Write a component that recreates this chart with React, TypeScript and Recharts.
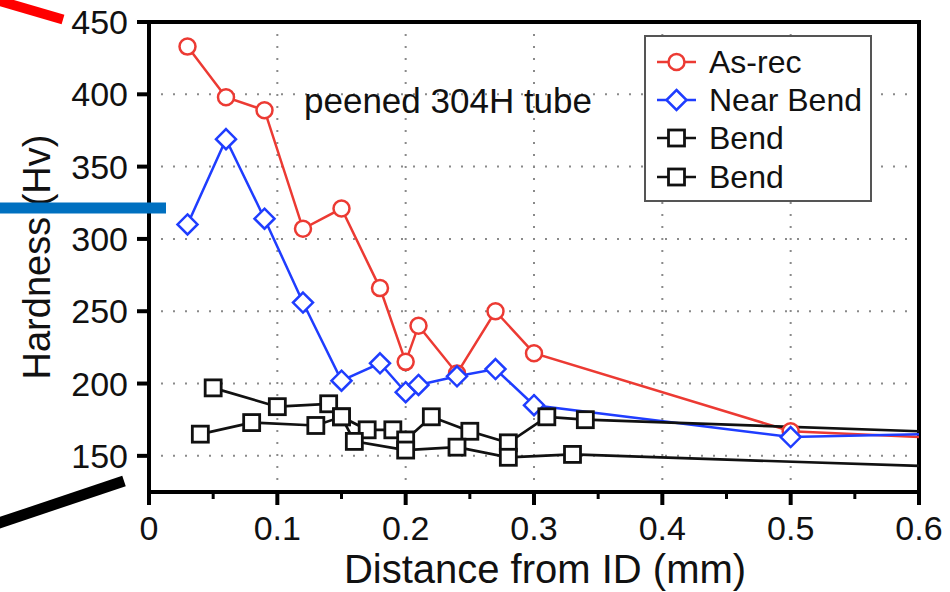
import React from 'react';
import {
  LineChart,
  Line,
  XAxis,
  YAxis,
  CartesianGrid,
  ReferenceArea,
  ReferenceDot,
  Legend,
  Label,
} from 'recharts';

// ---------- data ----------
const asRecX = [0.03, 0.06, 0.09, 0.12, 0.15, 0.18, 0.2, 0.21, 0.24, 0.27, 0.3, 0.5, 0.6];
const asRecHv = [433, 398, 389, 307, 321, 266, 215, 240, 207, 250, 221, 167, 163];

const nearBendX = [0.03, 0.06, 0.09, 0.12, 0.15, 0.18, 0.2, 0.21, 0.24, 0.27, 0.3, 0.5, 0.6];
const nearBendHv = [310, 369, 314, 256, 202, 214, 194, 199, 205, 210, 185, 163, 165];

const bendAX = [0.05, 0.1, 0.14, 0.15, 0.17, 0.19, 0.2, 0.22, 0.25, 0.28, 0.31, 0.34, 0.6];
const bendAHv = [197, 184, 186, 177, 168, 168, 161, 177, 167, 159, 177, 175, 167];

const bendBX = [0.04, 0.08, 0.13, 0.15, 0.16, 0.2, 0.24, 0.28, 0.33, 0.6];
const bendBHv = [165, 173, 171, 177, 160, 154, 156, 149, 151, 143];

const seriesNames = ['As-rec', 'Near Bend', 'Bend', 'Bend'];

const majorXTicks = [0, 0.1, 0.2, 0.3, 0.4, 0.5, 0.6];
const majorXLabels = ['0', '0.1', '0.2', '0.3', '0.4', '0.5', '0.6'];
const minorXTicks = [0.05, 0.15, 0.25, 0.35, 0.45, 0.55];
const yTicks = [150, 200, 250, 300, 350, 400, 450];
const gridX = [0.1, 0.2, 0.3, 0.4, 0.5];
const annotationText = 'peened 304H tube';
const annotationPos = { x: 0.233, y: 395.5 };

const xDomain = [0, 0.6];
const yDomain = [125, 450];

// ---------- styles ----------
const RED = '#ec3a33';
const BLUE = '#1f3dff';
const BLACK = '#111111';
const FONT = '"Liberation Sans", Arial, Helvetica, sans-serif';

const seriesStyle = [
  { color: RED, shape: 'circle', width: 2.5 },
  { color: BLUE, shape: 'diamond', width: 2.5 },
  { color: BLACK, shape: 'square', width: 2.7 },
  { color: BLACK, shape: 'square', width: 2.7 },
];

const toPoints = (xs: number[], ys: number[]) => xs.map((x, i) => ({ x, y: ys[i] }));

const seriesData = [
  toPoints(asRecX, asRecHv),
  toPoints(nearBendX, nearBendHv),
  toPoints(bendAX, bendAHv),
  toPoints(bendBX, bendBHv),
];

const Marker = ({ shape, cx, cy, color }: { shape: string; cx: number; cy: number; color: string }) => {
  if (shape === 'circle') {
    return <circle cx={cx} cy={cy} r={8} fill="#fff" stroke={color} strokeWidth={2.5} />;
  }
  if (shape === 'diamond') {
    const h = 10;
    return (
      <polygon
        points={`${cx},${cy - h} ${cx + h},${cy} ${cx},${cy + h} ${cx - h},${cy}`}
        fill="#fff"
        stroke={color}
        strokeWidth={2.5}
      />
    );
  }
  const s = 8;
  return <rect x={cx - s} y={cy - s} width={2 * s} height={2 * s} fill="#fff" stroke={color} strokeWidth={2.8} />;
};

const makeDot = (shape: string, color: string) => (props: any) => {
  const { cx, cy, index, payload } = props;
  const key = `dot-${shape}-${color}-${index}`;
  if (cx == null || cy == null || (payload && payload.x >= xDomain[1])) return <g key={key} />;
  return (
    <g key={key}>
      <Marker shape={shape} cx={cx} cy={cy} color={color} />
    </g>
  );
};

const XTick = (props: any) => {
  const { x, y, payload } = props;
  const v = payload.value;
  const mi = majorXTicks.findIndex((t) => Math.abs(t - v) < 1e-9);
  const isMajor = mi >= 0;
  return (
    <g>
      <line x1={x} x2={x} y1={y} y2={y + (isMajor ? 13 : 7)} stroke="#000" strokeWidth={isMajor ? 4 : 3} />
      {isMajor && (
        <text x={x} y={y + 24} dy="0.71em" textAnchor="middle" fontSize={34} fill={BLACK} fontFamily={FONT}>
          {majorXLabels[mi]}
        </text>
      )}
    </g>
  );
};

const LegendBox = () => (
  <div
    style={{
      width: 228,
      height: 167,
      boxSizing: 'border-box',
      border: '2px solid #555',
      background: '#fff',
      paddingTop: 5.5,
      fontFamily: FONT,
    }}
  >
    {seriesNames.map((name, i) => (
      <div key={i} style={{ display: 'flex', alignItems: 'center', height: 38.3 }}>
        <svg width={54} height={30} style={{ marginLeft: 9, flex: 'none' }}>
          <line x1={2} x2={41} y1={15} y2={15} stroke={seriesStyle[i].color} strokeWidth={2.5} />
          <Marker shape={seriesStyle[i].shape} cx={21.5} cy={15} color={seriesStyle[i].color} />
        </svg>
        <span style={{ fontSize: 32, color: BLACK, lineHeight: 1, whiteSpace: 'nowrap' }}>{name}</span>
      </div>
    ))}
  </div>
);

export default function App() {
  return (
    <div
      style={{
        position: 'absolute',
        left: 0,
        top: 0,
        width: 950,
        height: 592,
        background: '#fff',
        fontFamily: FONT,
        overflow: 'hidden',
      }}
    >
      <LineChart width={950} height={592} margin={{ top: 22, right: 31, left: 0, bottom: 0 }}>
        <CartesianGrid
          horizontal
          vertical
          verticalValues={gridX}
          horizontalValues={yTicks}
          stroke="#8a8a8a"
          strokeWidth={2}
          strokeDasharray="2 10"
        />
        <XAxis
          dataKey="x"
          type="number"
          domain={xDomain}
          allowDataOverflow
          ticks={[...majorXTicks, ...minorXTicks].sort((a, b) => a - b)}
          interval={0}
          height={100}
          tickSize={0}
          tickMargin={0}
          tickLine={false}
          tick={<XTick />}
          axisLine={{ stroke: '#000', strokeWidth: 4 }}
        >
          <Label
            content={(p: any) => {
              const vb = p.viewBox || { x: 149, y: 492, width: 770 };
              return (
                <text
                  x={vb.x + vb.width / 2 + 11}
                  y={vb.y + 91}
                  textAnchor="middle"
                  fontSize={40}
                  fill={BLACK}
                  fontFamily={FONT}
                >
                  Distance from ID (mm)
                </text>
              );
            }}
          />
        </XAxis>
        <YAxis
          type="number"
          domain={yDomain}
          allowDataOverflow
          ticks={yTicks}
          interval={0}
          width={149}
          tickSize={12}
          tickMargin={9}
          tickLine={{ stroke: '#000', strokeWidth: 4 }}
          axisLine={{ stroke: '#000', strokeWidth: 4 }}
          tick={{ fontSize: 34, fill: BLACK, fontFamily: FONT }}
        >
          <Label
            content={(p: any) => {
              const vb = p.viewBox || { x: 0, y: 22, width: 149, height: 470 };
              const lx = vb.x + 50;
              const ly = vb.y + vb.height / 2;
              return (
                <text
                  x={lx}
                  y={ly}
                  transform={`rotate(-90, ${lx}, ${ly})`}
                  textAnchor="middle"
                  fontSize={38}
                  fill={BLACK}
                  fontFamily={FONT}
                >
                  Hardness (Hv)
                </text>
              );
            }}
          />
        </YAxis>
        <ReferenceArea
          x1={xDomain[0]}
          x2={xDomain[1]}
          y1={yDomain[0]}
          y2={yDomain[1]}
          fill="none"
          fillOpacity={0}
          stroke="#000"
          strokeWidth={4}
          ifOverflow="visible"
        />
        <ReferenceDot
          x={annotationPos.x}
          y={annotationPos.y}
          r={0}
          fill="none"
          stroke="none"
          label={{ value: annotationText, position: 'center', fontSize: 35, fill: BLACK, fontFamily: FONT }}
        />
        {seriesData.map((d, i) => (
          <Line
            key={i}
            data={d}
            dataKey="y"
            name={seriesNames[i]}
            type="linear"
            stroke={seriesStyle[i].color}
            strokeWidth={seriesStyle[i].width}
            dot={makeDot(seriesStyle[i].shape, seriesStyle[i].color)}
            activeDot={false}
            isAnimationActive={false}
          />
        ))}
        <Legend
          layout="vertical"
          align="center"
          verticalAlign="middle"
          content={() => <LegendBox />}
          wrapperStyle={{ left: 644, top: 35, width: 228, height: 167 }}
        />
      </LineChart>
      <svg
        width={950}
        height={592}
        style={{ position: 'absolute', left: 0, top: 0, pointerEvents: 'none' }}
      >
        <line x1={-4} y1={0} x2={63} y2={19.5} stroke="#ff0000" strokeWidth={10} />
        <line x1={0} y1={208} x2={166} y2={208} stroke="#0070c0" strokeWidth={11} />
        <line x1={-4} y1={524} x2={124} y2={481} stroke="#000" strokeWidth={11} />
      </svg>
    </div>
  );
}
